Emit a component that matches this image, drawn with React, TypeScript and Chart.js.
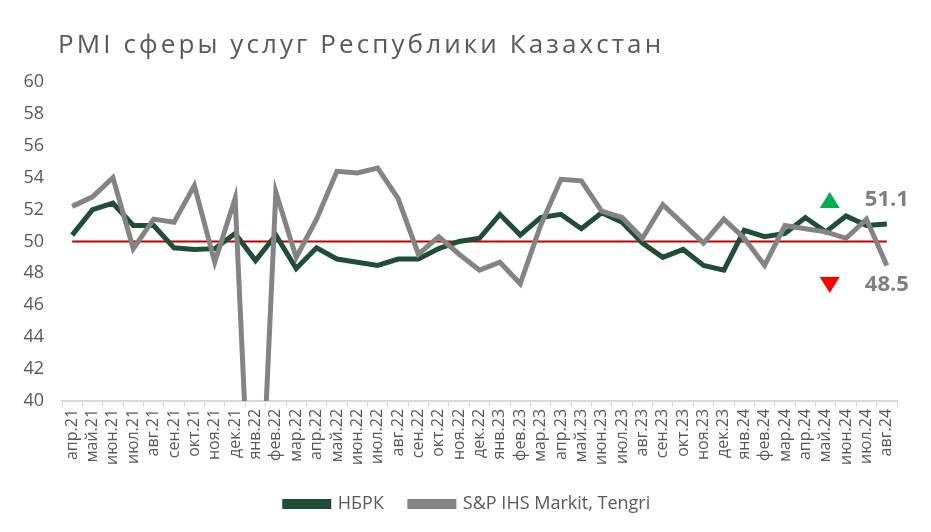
import React, { useEffect, useRef } from "react";
import { Chart, registerables } from "chart.js";

Chart.register(...registerables);

const categories = [
  "апр.21", "май.21", "июн.21", "июл.21", "авг.21", "сен.21", "окт.21", "ноя.21", "дек.21",
  "янв.22", "фев.22", "мар.22", "апр.22", "май.22", "июн.22", "июл.22", "авг.22", "сен.22",
  "окт.22", "ноя.22", "дек.22", "янв.23", "фев.23", "мар.23", "апр.23", "май.23", "июн.23",
  "июл.23", "авг.23", "сен.23", "окт.23", "ноя.23", "дек.23", "янв.24", "фев.24", "мар.24",
  "апр.24", "май.24", "июн.24", "июл.24", "авг.24",
];

const nbrk = [
  50.4, 52.0, 52.4, 51.0, 51.0, 49.6, 49.5, 49.55, 50.5,
  48.8, 50.4, 48.3, 49.6, 48.9, 48.7, 48.5, 48.9, 48.9,
  49.55, 50.0, 50.2, 51.7, 50.4, 51.5, 51.7, 50.8, 51.8,
  51.2, 49.9, 49.0, 49.5, 48.5, 48.2, 50.7, 50.3, 50.5,
  51.5, 50.6, 51.6, 51.0, 51.1,
];

const spTengri = [
  52.2, 52.8, 54.0, 49.55, 51.4, 51.2, 53.5, 48.7, 52.7,
  25.0, 53.1, 49.0, 51.4, 54.4, 54.3, 54.6, 52.7, 49.2,
  50.3, 49.2, 48.2, 48.7, 47.35, 51.0, 53.9, 53.8, 51.9,
  51.5, 50.2, 52.3, 51.1, 49.9, 51.4, 50.2, 48.5, 51.0,
  50.8, 50.6, 50.2, 51.4, 48.5,
];

const yTicks = { min: 40, max: 60, step: 2 };
const thresholdValue = 50;
const titleText = "PMI сферы услуг Республики Казахстан";
const seriesLabels = ["НБРК", "S&P IHS Markit, Tengri"];

const FONT = "'Open Sans', 'Noto Sans', sans-serif";
const TEXT = "#595959";
const GREEN = "#1f4d35";
const GRAY = "#848484";
const RED_LINE = "#c00000";

const titlePlugin = {
  id: "titleText",
  afterDraw(chart: any) {
    const ctx = chart.ctx;
    ctx.save();
    ctx.fillStyle = TEXT;
    ctx.font = `26px ${FONT}`;
    (ctx as any).letterSpacing = "3.1px";
    ctx.textAlign = "left";
    ctx.textBaseline = "alphabetic";
    ctx.fillText(titleText, 58, 53);
    ctx.restore();
  },
};

const legendShiftPlugin = {
  id: "legendShift",
  afterLayout(chart: any) {
    if (chart.legend) {
      chart.legend.left += 19;
      chart.legend.right += 19;
    }
  },
};

const thresholdPlugin = {
  id: "thresholdLine",
  beforeDatasetsDraw(chart: any) {
    const x = chart.scales.x;
    const y = chart.scales.y;
    const ctx = chart.ctx;
    const py = y.getPixelForValue(thresholdValue);
    ctx.save();
    ctx.strokeStyle = RED_LINE;
    ctx.lineWidth = 2;
    ctx.beginPath();
    ctx.moveTo(x.getPixelForValue(0), py);
    ctx.lineTo(x.getPixelForValue(categories.length - 1), py);
    ctx.stroke();
    ctx.restore();
  },
};

const annotationPlugin = {
  id: "changeMarks",
  afterDatasetsDraw(chart: any) {
    const x = chart.scales.x;
    const y = chart.scales.y;
    const ctx = chart.ctx;
    const last = categories.length - 1;
    const triX = x.getPixelForValue(last - 3) + 4;
    const textX = x.getPixelForValue(last);
    const upY = y.getPixelForValue(52.6);
    const downY = y.getPixelForValue(47.27);
    ctx.save();
    ctx.fillStyle = "#00b050";
    ctx.beginPath();
    ctx.moveTo(triX, upY - 8);
    ctx.lineTo(triX + 10, upY + 8);
    ctx.lineTo(triX - 10, upY + 8);
    ctx.closePath();
    ctx.fill();
    ctx.fillStyle = "#ff0000";
    ctx.beginPath();
    ctx.moveTo(triX - 10, downY - 8);
    ctx.lineTo(triX + 10, downY - 8);
    ctx.lineTo(triX, downY + 8);
    ctx.closePath();
    ctx.fill();
    ctx.fillStyle = "#7f7f7f";
    ctx.font = `bold 22px ${FONT}`;
    ctx.textAlign = "center";
    ctx.textBaseline = "middle";
    ctx.fillText(nbrk[last].toFixed(1), textX, upY);
    ctx.fillText(spTengri[last].toFixed(1), textX, downY);
    ctx.restore();
  },
};

export default function App() {
  const ref = useRef<HTMLCanvasElement>(null);
  useEffect(() => {
    const canvas = ref.current;
    if (!canvas) return;
    const chart = new Chart(canvas, {
      type: "line",
      data: {
        labels: categories,
        datasets: [
          {
            label: seriesLabels[0],
            data: nbrk,
            borderColor: GREEN,
            backgroundColor: GREEN,
            borderWidth: 5,
            pointRadius: 0,
            tension: 0,
            order: 1,
          },
          {
            label: seriesLabels[1],
            data: spTengri,
            borderColor: GRAY,
            backgroundColor: GRAY,
            borderWidth: 5,
            pointRadius: 0,
            tension: 0,
            order: 0,
          },
        ],
      },
      options: {
        responsive: false,
        animation: false,
        events: [],
        layout: { padding: { top: 82, right: 34, bottom: 9, left: 0 } },
        scales: {
          x: {
            offset: true,
            grid: {
              display: true,
              drawOnChartArea: false,
              drawTicks: true,
              tickLength: 6,
              color: "#d9d9d9",
              offset: true,
            },
            border: { display: true, color: "#d9d9d9", width: 2 },
            ticks: {
              autoSkip: false,
              maxRotation: 90,
              minRotation: 90,
              font: { family: FONT, size: 16 },
              color: TEXT,
              padding: 2,
            },
            afterFit: (s: any) => {
              s.height = s.height + 2;
            },
          },
          y: {
            min: yTicks.min,
            max: yTicks.max,
            ticks: {
              stepSize: yTicks.step,
              font: { family: FONT, size: 18 },
              color: TEXT,
              padding: 10,
            },
            grid: { display: false },
            border: { display: false },
            afterFit: (s: any) => {
              s.width = 62;
            },
          },
        },
        plugins: {
          legend: {
            position: "bottom",
            labels: {
              boxWidth: 44,
              boxHeight: 5,
              font: { family: FONT, size: 18 },
              color: TEXT,
              padding: 26,
              sort: (a: any, b: any) => a.datasetIndex - b.datasetIndex,
            },
          },
          tooltip: { enabled: false },
          title: { display: false },
        },
      },
      plugins: [titlePlugin, legendShiftPlugin, thresholdPlugin, annotationPlugin],
    });
    return () => chart.destroy();
  }, []);
  return (
    <div style={{ position: "fixed", left: 0, top: 0, width: 931, height: 532, background: "#fff" }}>
      <canvas ref={ref} width={931} height={532} style={{ display: "block" }} />
    </div>
  );
}
